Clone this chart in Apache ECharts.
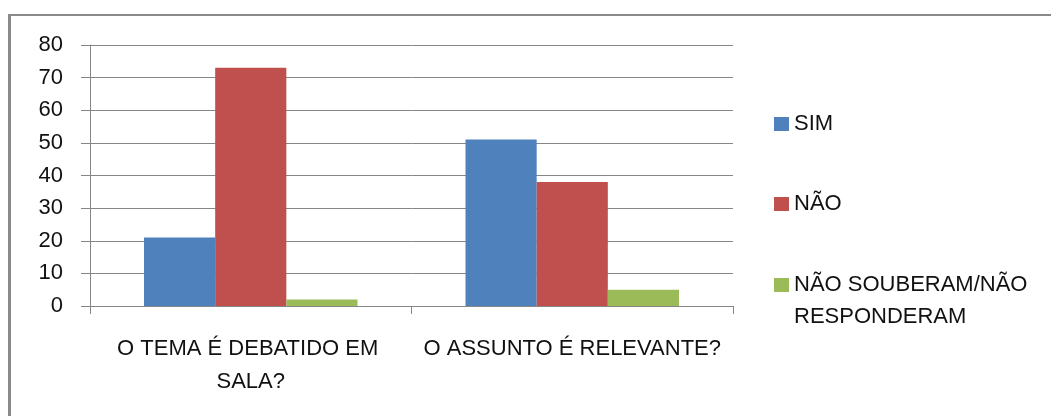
<!DOCTYPE html>
<html>
<head>
<meta charset="utf-8">
<script src="https://cdn.jsdelivr.net/npm/echarts@6/dist/echarts.min.js"></script>
<style>
  html, body { margin: 0; padding: 0; background: #fff; }
  #frame { position: absolute; left: 8px; top: 14px; width: 1100px; height: 500px;
           border-left: 3px solid #8a8a8a; border-top: 2px solid #8a8a8a; }
  #chart { position: absolute; left: 0; top: 0; width: 1051px; height: 416px; }
</style>
</head>
<body>
<div id="frame"></div>
<div id="chart"></div>
<script>
const categories = ['O TEMA É DEBATIDO EM SALA?', 'O ASSUNTO É RELEVANTE?'];
const seriesNames = ['SIM', 'NÃO', 'NÃO SOUBERAM/NÃO RESPONDERAM'];
const simValues = [21, 51];
const naoValues = [73, 38];
const nsValues = [2, 5];
const yTicks = { min: 0, max: 80, interval: 10 };

const FONT = 'Liberation Sans, Arial, sans-serif';
const FS = 22;
const colors = ['#4F81BD', '#C0504D', '#9BBB59'];
const gridColor = '#868686';

const chart = echarts.init(document.getElementById('chart'), null, { renderer: 'canvas' });
const legendBase = {
  orient: 'vertical', left: 774, itemWidth: 15, itemHeight: 14, itemGap: 0,
  icon: 'rect', selectedMode: false, padding: 0,
  textStyle: { fontFamily: FONT, fontSize: FS, color: '#111', lineHeight: 32 }
};
chart.setOption({
  animation: false,
  color: colors,
  grid: { left: 90, right: 318, top: 45, bottom: 110, containLabel: false },
  legend: [
    Object.assign({}, legendBase, { data: [seriesNames[0]], top: 108 }),
    Object.assign({}, legendBase, { data: [seriesNames[1]], top: 188 }),
    Object.assign({}, legendBase, {
      data: [seriesNames[2]],
      top: 237,
      formatter: function () { return '\nNÃO SOUBERAM/NÃO\nRESPONDERAM'; }
    })
  ],
  xAxis: {
    type: 'category',
    data: categories,
    axisLine: { show: true, lineStyle: { color: gridColor, width: 1 } },
    axisTick: { show: true, length: 8, lineStyle: { color: gridColor } },
    axisLabel: {
      fontFamily: FONT, fontSize: FS, color: '#111', margin: 26, lineHeight: 33,
      width: 312, overflow: 'break', interval: 0
    },
    splitLine: { show: false }
  },
  yAxis: {
    type: 'value',
    min: yTicks.min, max: yTicks.max, interval: yTicks.interval,
    axisLine: { show: true, lineStyle: { color: gridColor, width: 1 } },
    axisTick: { show: true, length: 9, lineStyle: { color: gridColor } },
    axisLabel: { fontFamily: FONT, fontSize: FS, color: '#111', margin: 27 },
    splitLine: { show: true, lineStyle: { color: gridColor, width: 1 } }
  },
  series: [
    { name: seriesNames[0], type: 'bar', data: simValues, barGap: '0%', barCategoryGap: '33.6%' },
    { name: seriesNames[1], type: 'bar', data: naoValues, barGap: '0%', barCategoryGap: '33.6%' },
    { name: seriesNames[2], type: 'bar', data: nsValues, barGap: '0%', barCategoryGap: '33.6%' }
  ]
});
</script>
</body>
</html>
